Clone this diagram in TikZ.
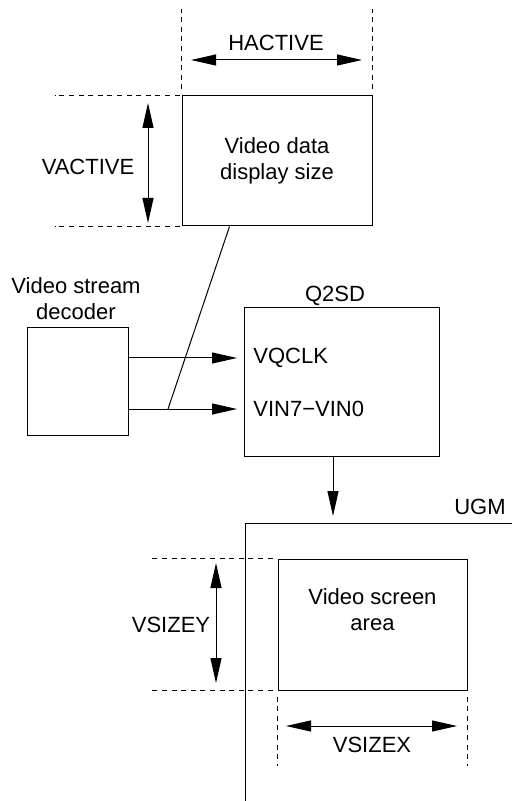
\documentclass[tikz,border=0pt]{standalone}
\usepackage{fontspec}
\setmainfont{Liberation Sans}
\usetikzlibrary{arrows.meta}

\begin{document}
\begin{tikzpicture}[
    x=0.5pt, y=-0.5pt,
    box/.style={draw, line width=0.5pt, inner sep=0pt, align=center, font=\fontsize{11}{13}\selectfont},
    lbl/.style={font=\fontsize{11}{13}\selectfont, inner sep=0pt, align=center},
    extline/.style={line width=0.5pt, dash pattern=on 2.5pt off 2.3pt},
    dimarrow/.style={{Triangle[length=12.5pt, width=5.5pt]}-{Triangle[length=12.5pt, width=5.5pt]}, line width=0.5pt},
    sigarrow/.style={-{Triangle[length=12.5pt, width=5.5pt]}, line width=0.5pt}
]
\useasboundingbox (0,0) rectangle (512,801);
% --- Display size box and its dimensions ---
\node[box, minimum width=95pt, minimum height=65pt] (vdata) at (277,161) {Video data\\display size};
\draw[extline] ([yshift=3pt]vdata.north west) -- ++(0,-80);
\draw[extline] ([yshift=3pt]vdata.north east) -- ++(0,-80);
\draw[extline] ([xshift=-1pt]vdata.north west) -- ++(-125,0);
\draw[extline] ([xshift=-1pt]vdata.south west) -- ++(-125,0);
\coordinate (hactL) at (191,60);
\coordinate (hactR) at (362,60);
\draw[dimarrow] (hactL) -- (hactR);
\node[lbl] (hactive) at (276,43) {HACTIVE};
\coordinate (vactT) at (148,103);
\coordinate (vactB) at (148,223);
\draw[dimarrow] (vactT) -- (vactB);
\node[lbl] (vactive) at (88,167) {VACTIVE};
% --- Decoder and Q2SD ---
\node[box, minimum width=50.5pt, minimum height=53.5pt] (decoder) at (77.5,381.5) {};
\node[lbl] (decodertxt) at (76,299) {Video stream\\decoder};
\node[box, minimum width=97.5pt, minimum height=74pt] (q2sd) at (341.5,382) {};
\node[lbl] (q2sdtxt) at (335,296) {Q2SD};
\node[lbl, anchor=west] (vqclk) at (253,358) {VQCLK};
\node[lbl, anchor=west] (vin) at (253,409) {VIN7−VIN0};
\draw[sigarrow] (decoder.east |- vqclk.west) -- ([xshift=-8pt]vqclk.west);
\draw[sigarrow] (decoder.east |- vin.west) -- ([xshift=-8pt]vin.west);
\coordinate (tap) at (168,409);
\draw[line width=0.5pt] ([xshift=24pt]vdata.south west) -- (tap);
% --- UGM frame ---
\coordinate (ugmin) at (333,516);
\draw[sigarrow] (q2sd.south -| ugmin) -- (ugmin);
\coordinate (ugmtl) at (245,523);
\draw[line width=0.5pt] (245,801) -- (ugmtl) -- (512,523);
\node[lbl] (ugm) at (480,507) {UGM};
% --- Screen area box and its dimensions ---
\node[box, minimum width=94.5pt, minimum height=65.5pt] (vscreen) at (372.5,624.5) {};
\node[lbl] (vscreentxt) at (372.5,610) {Video screen\\area};
\draw[extline] ([xshift=-2.5pt]vscreen.north west) -- ++(-123,0);
\draw[extline] ([xshift=-2.5pt]vscreen.south west) -- ++(-123,0);
\draw[extline] ([yshift=-3pt]vscreen.south west) -- ++(0,69);
\draw[extline] ([yshift=-3pt]vscreen.south east) -- ++(0,69);
\coordinate (vsyT) at (216,563);
\coordinate (vsyB) at (216,683);
\draw[dimarrow] (vsyT) -- (vsyB);
\node[lbl] (vsizey) at (171,625) {VSIZEY};
\coordinate (vsxL) at (286,726);
\coordinate (vsxR) at (457,726);
\draw[dimarrow] (vsxL) -- (vsxR);
\node[lbl] (vsizex) at (372,745) {VSIZEX};
\end{tikzpicture}
\end{document}
